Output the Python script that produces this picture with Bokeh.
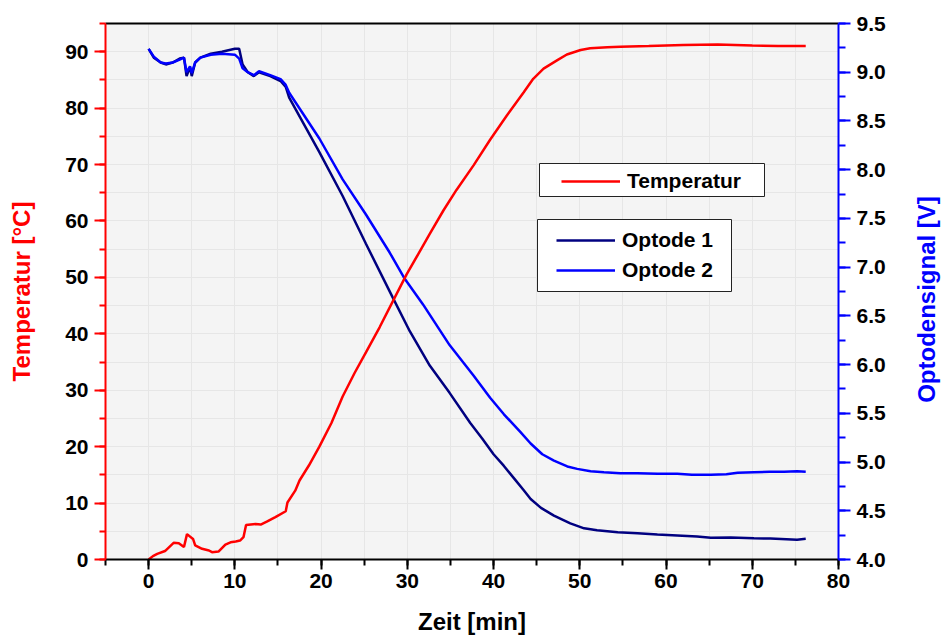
import math

from bokeh.core.properties import value
from bokeh.embed import file_html
from bokeh.layouts import row
from bokeh.models import (BoxAnnotation, FixedTicker, Legend, LegendItem,
                          LinearAxis, PrintfTickFormatter, Range1d,
                          SingleIntervalTicker)
from bokeh.plotting import figure
from bokeh.resources import INLINE

# --- measured data -------------------------------------------------------
# Temperature in the sample [°C] over time [min]
t_temp = [0.0, 0.5, 1.0, 1.9, 2.9, 3.5, 4.1, 4.45, 5.15, 5.4, 6.2, 7.0, 7.35,
          8.1, 8.9, 9.5, 10.1, 10.6, 11.0, 11.3, 12.4, 13.0, 13.7, 14.7, 15.9,
          16.1, 17.0, 17.5, 18.6, 19.8, 21.2, 22.5, 23.9, 25.2, 26.8, 28.3,
          29.9, 31.25, 32.6, 34.2, 35.7, 37.7, 39.6, 41.5, 43.5, 44.6, 45.8,
          47.4, 48.5, 50.1, 51.2, 53.2, 54.7, 58.0, 62.0, 66.0, 70.0, 73.0,
          76.2]
temp = [0.0, 0.6, 1.0, 1.5, 2.95, 2.9, 2.2, 4.5, 3.65, 2.5, 1.9, 1.6, 1.3,
        1.4, 2.65, 3.05, 3.2, 3.35, 3.95, 6.1, 6.3, 6.2, 6.7, 7.5, 8.55,
        10.1, 12.2, 14.0, 16.7, 20.0, 24.2, 28.9, 33.1, 36.7, 41.2, 45.7,
        50.5, 54.1, 57.7, 61.9, 65.5, 69.9, 74.4, 78.6, 82.8, 85.2, 87.0,
        88.5, 89.5, 90.3, 90.6, 90.8, 90.9, 91.0, 91.2, 91.3, 91.1, 91.0,
        91.0]

# Optode 1 signal [V] over time [min]
t_opt1 = [0.0, 0.6, 1.4, 2.0, 2.8, 3.6, 4.1, 4.4, 4.8, 5.0, 5.4, 6.0, 7.2,
          8.5, 10.0, 10.5, 10.9, 11.5, 12.2, 12.8, 14.1, 15.3, 15.9, 16.3,
          19.8, 22.5, 25.2, 28.3, 30.3, 32.6, 34.9, 37.3, 38.7, 40.0, 41.2,
          42.4, 43.5, 44.3, 45.5, 47.0, 48.9, 50.5, 52.0, 54.4, 56.7, 59.0,
          61.3, 63.6, 65.2, 67.5, 70.2, 72.1, 75.2, 76.2]
opt1 = [9.24, 9.15, 9.10, 9.08, 9.10, 9.14, 9.15, 8.96, 9.05, 8.96, 9.10,
        9.15, 9.19, 9.21, 9.24, 9.24, 9.08, 9.00, 8.96, 9.00, 8.96, 8.91,
        8.85, 8.74, 8.18, 7.73, 7.24, 6.69, 6.34, 5.99, 5.71, 5.40, 5.24,
        5.08, 4.96, 4.83, 4.71, 4.62, 4.53, 4.45, 4.37, 4.32, 4.30, 4.28,
        4.27, 4.256, 4.246, 4.236, 4.222, 4.226, 4.218, 4.215, 4.202, 4.212]

# Optode 2 signal [V] over time [min]
t_opt2 = [0.0, 0.6, 1.4, 2.0, 2.8, 3.6, 4.1, 4.4, 4.8, 5.0, 5.4, 6.0, 7.2,
          8.5, 10.0, 10.5, 10.9, 11.5, 12.2, 12.8, 14.1, 15.3, 15.9, 16.3,
          19.8, 22.5, 25.2, 27.95, 29.7, 31.8, 34.9, 37.65, 39.6, 41.2, 43.1,
          44.3, 45.65, 47.0, 48.55, 49.7, 51.25, 52.8, 54.7, 56.7, 59.0, 61.3,
          63.0, 65.2, 67.0, 68.3, 70.2, 72.0, 73.7, 75.2, 76.2]
opt2 = [9.24, 9.16, 9.10, 9.09, 9.10, 9.13, 9.15, 9.00, 9.06, 8.99, 9.10,
        9.15, 9.18, 9.19, 9.18, 9.14, 9.04, 9.00, 8.97, 9.01, 8.97, 8.93,
        8.87, 8.79, 8.32, 7.90, 7.54, 7.15, 6.88, 6.62, 6.20, 5.89, 5.66,
        5.49, 5.31, 5.19, 5.08, 5.015, 4.955, 4.93, 4.905, 4.895, 4.885,
        4.885, 4.88, 4.88, 4.87, 4.87, 4.875, 4.89, 4.895, 4.90, 4.90, 4.905,
        4.90]

# --- styling -------------------------------------------------------------
FONT = "Liberation Sans"
RED = "#ff0000"
NAVY = "#000080"
BLUE = "#0000ff"
TICK_FS = "21px"
LABEL_FS = "24px"

MAIN_W = 890
TOTAL_W = 942
H = 639

p = figure(width=MAIN_W, height=H, output_backend="svg", toolbar_location=None,
           x_range=Range1d(-5, 80), y_range=Range1d(0, 95),
           min_border_left=105, min_border_right=52,
           min_border_top=23, min_border_bottom=80,
           background_fill_color="#f4f4f4", border_fill_color="white")
p.outline_line_color = None
p.extra_y_ranges = {"volt": Range1d(4.0, 9.5)}


def style_axis(ax, color, label_color):
    ax.axis_line_color = color
    ax.axis_line_width = 2
    ax.major_tick_line_color = color
    ax.minor_tick_line_color = color
    ax.major_tick_line_width = 2
    ax.minor_tick_line_width = 2
    ax.major_tick_in = 0
    ax.minor_tick_in = 0
    ax.major_tick_out = 11
    ax.minor_tick_out = 6
    ax.major_label_text_font = FONT
    ax.major_label_text_font_style = "bold"
    ax.major_label_text_font_size = TICK_FS
    ax.major_label_text_color = "black"
    ax.axis_label_text_font = FONT
    ax.axis_label_text_font_style = "bold"
    ax.axis_label_text_font_size = LABEL_FS
    ax.axis_label_text_color = label_color


# bottom: time axis
xa = p.xaxis[0]
xa.ticker = SingleIntervalTicker(interval=10, num_minor_ticks=2)
xa.axis_label = "Zeit [min]"
style_axis(xa, "black", "black")
xa.major_tick_out = 10
xa.major_label_standoff = 4
xa.axis_label_standoff = 17

# left: temperature axis
ya = p.yaxis[0]
ya.ticker = SingleIntervalTicker(interval=10, num_minor_ticks=2)
ya.axis_label = "Temperatur [°C]"
style_axis(ya, RED, RED)
ya.major_label_standoff = 6
ya.axis_label_standoff = 27

# right: optode signal axis (its title sits in the narrow strip next to it)
ra = LinearAxis(y_range_name="volt",
                ticker=SingleIntervalTicker(interval=0.5, num_minor_ticks=2),
                formatter=PrintfTickFormatter(format="%.1f"))
style_axis(ra, BLUE, BLUE)
ra.major_tick_out = 12
ra.minor_tick_out = 7
ra.major_label_standoff = 6
p.add_layout(ra, "right")

# top frame edge
ta = LinearAxis(ticker=FixedTicker(ticks=[]), major_tick_out=0,
                major_tick_in=0, minor_tick_out=0, minor_tick_in=0,
                axis_line_color="black", axis_line_width=2,
                major_label_standoff=0)
p.add_layout(ta, "above")

# light grid every 5 units
p.xgrid.ticker = SingleIntervalTicker(interval=5)
p.ygrid.ticker = SingleIntervalTicker(interval=5)
for g in (p.xgrid[0], p.ygrid[0]):
    g.grid_line_color = "#e6e6e6"
    g.grid_line_width = 1

# curves
r_o1 = p.line(t_opt1, opt1, line_color=NAVY, line_width=2.5, y_range_name="volt")
r_o2 = p.line(t_opt2, opt2, line_color=BLUE, line_width=2.5, y_range_name="volt")
r_t = p.line(t_temp, temp, line_color=RED, line_width=2.5)

# legend frames
box_kw = dict(left_units="screen", right_units="screen",
              bottom_units="screen", top_units="screen",
              fill_color="white", fill_alpha=1.0,
              line_color="#222222", line_alpha=1.0, line_width=1)
p.add_layout(BoxAnnotation(left=434, right=659, bottom=363, top=396, **box_kw))
p.add_layout(BoxAnnotation(left=432, right=626, bottom=268, top=340, **box_kw))


def make_legend(items, loc):
    return Legend(items=items, location=loc, padding=0, margin=0, spacing=6,
                  glyph_width=59, glyph_height=24, label_height=24,
                  label_standoff=7, border_line_color=None,
                  background_fill_alpha=0.0,
                  label_text_font=FONT, label_text_font_style="bold",
                  label_text_font_size=TICK_FS, label_text_color="black")


p.add_layout(make_legend([LegendItem(label="Temperatur", renderers=[r_t])],
                         (456, 366)))
p.add_layout(make_legend([LegendItem(label="Optode 1", renderers=[r_o1]),
                          LegendItem(label="Optode 2", renderers=[r_o2])],
                         (451, 277)))

# strip to the right holding the optode axis title, reading bottom to top
strip_w = TOTAL_W - MAIN_W
side = figure(width=strip_w, height=H, output_backend="svg",
              toolbar_location=None, x_axis_location=None,
              y_axis_location=None, x_range=Range1d(0, strip_w),
              y_range=Range1d(0, H), min_border=0,
              background_fill_color="white", border_fill_color="white")
side.outline_line_color = None
side.grid.visible = False
side.text(x=[strip_w - 16], y=[H - 329], text=["Optodensignal [V]"],
          angle=math.pi / 2, text_align="center", text_baseline="middle",
          text_font=value(FONT), text_font_style="bold",
          text_font_size=value(LABEL_FS), text_color=BLUE)

layout = row(p, side, spacing=0)
open("out.html", "w").write(file_html(layout, INLINE))
